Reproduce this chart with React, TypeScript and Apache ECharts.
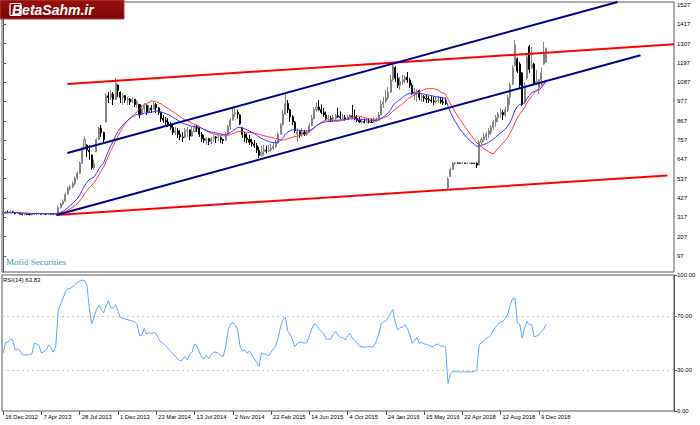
import React, { useEffect, useRef } from "react";
import * as echarts from "echarts";

// ---- tick labels ----
const dateLabels = [
  "16 Dec 2012", "7 Apr 2013", "28 Jul 2013", "1 Dec 2013", "23 Mar 2014",
  "13 Jul 2014", "2 Nov 2014", "22 Feb 2015", "14 Jun 2015", "4 Oct 2015",
  "24 Jan 2016", "15 May 2016", "22 Apr 2018", "12 Aug 2018", "9 Dec 2018",
];
const labelStep = 16;
const slotCount = 281;
const priceTicks = [97, 207, 317, 427, 537, 647, 757, 867, 977, 1087, 1197, 1307, 1417, 1527];
const rsiTicks = [0, 30, 70, 100];

// ---- weekly candles [open, close, low, high] ----
const candlesFlat = [
  [340,342,335,348],[342,346,338,352],[346,344,340,355],[344,348,340,356],[348,345,340,354],
  [345,338,333,347],[338,340,334,345],[340,336,332,343],[336,333,328,340],[333,334,328,339],
  [334,333,329,338],[333,332,328,337],[332,333,328,337],[333,338,330,342],[338,337,332,341],
  [337,338,333,342],[338,334,330,340],[334,335,331,339],[335,334,330,338],[334,337,331,341],
  [337,336,332,340],[336,334,330,339],[334,337,331,341],
];
const candlesRally = [
  [337,372,330,385],[372,392,368,400],[392,408,385,418],[408,448,405,458],[448,482,445,492],
  [482,490,470,502],[490,510,482,520],[510,540,500,548],[540,568,528,578],[568,625,565,635],
  [625,712,620,720],[712,760,705,778],[728,700,662,732],[700,690,645,728],[672,600,588,676],
  [600,625,586,645],[690,760,688,770],[760,825,757,832],[825,800,775,843],[800,760,746,805],
  [860,1010,858,1025],[1010,1000,968,1031],[1000,1020,985,1043],[1020,990,957,1031],[990,1080,985,1111],
  [1070,1040,1003,1075],[1030,1000,968,1035],[1000,1010,957,1025],[1010,985,968,1014],[985,990,957,1003],
  [990,975,957,997],[975,990,968,1003],[990,960,946,992],[960,975,940,985],[960,900,883,962],
];
const candlesRange = [
  [905,935,900,957],[935,955,917,968],[955,915,900,960],[915,940,911,957],[940,930,911,957],
  [930,960,929,974],[960,940,911,968],[940,915,900,946],[915,880,860,917],[880,870,855,900],
  [870,860,843,889],[860,845,832,883],[845,830,815,860],[830,800,786,843],[800,810,786,832],
  [810,790,769,826],[790,775,757,815],[775,770,746,803],[770,810,769,826],[810,815,775,832],
  [815,780,757,818],[780,805,776,832],[805,830,800,843],[830,825,803,843],[825,790,775,832],
  [790,765,746,803],[765,755,740,786],[755,765,729,775],[765,750,729,770],[750,765,735,775],
  [765,775,746,786],[775,770,740,780],[770,772,750,790],[772,760,740,778],[760,755,735,765],
  [755,790,752,803],[790,835,786,843],[835,870,815,883],[870,905,868,946],[905,915,889,940],
  [915,905,880,930],[900,850,843,905],[826,790,769,830],[790,770,746,803],[770,760,740,795],
  [760,745,729,786],[745,735,720,765],[735,725,712,757],[725,700,683,740],[700,670,655,718],
  [670,690,660,725],[690,700,670,730],[700,695,683,725],[695,700,689,729],[700,710,690,735],
  [710,720,700,740],[720,740,712,757],[740,790,738,803],[790,845,788,855],
];
const candlesChannel = [
  [845,905,840,929],[905,965,900,1025],[965,930,911,985],[930,890,860,935],[890,860,843,900],
  [860,810,797,865],[790,805,750,826],[805,790,769,815],[790,800,775,826],[800,790,780,815],
  [790,800,781,812],[800,840,798,855],[840,880,835,900],[880,930,875,946],[930,945,917,974],
  [945,930,925,985],[930,915,905,960],[915,900,889,940],[900,880,870,920],[880,880,860,900],
  [880,875,860,895],[875,885,860,900],[880,895,865,905],[895,890,883,940],[890,885,875,920],
  [885,885,870,905],[885,875,868,900],[875,890,870,900],[890,900,883,905],[895,885,880,957],
  [885,880,870,930],[880,870,860,900],[870,860,855,889],[860,862,852,880],[862,858,852,880],
  [858,862,855,880],[862,860,852,880],[860,858,855,878],[858,862,855,885],[862,870,860,885],
  [870,900,868,917],[900,960,900,985],[960,975,940,1003],[975,1000,968,1043],[1000,1030,985,1060],
  [1030,1100,1025,1128],[1100,1180,1090,1200],[1170,1110,1088,1178],[1110,1070,1054,1140],[1070,1090,1043,1117],
  [1090,1100,1071,1128],[1100,1115,1080,1125],[1115,1100,1083,1145],[1100,1070,1054,1111],[1070,1020,1014,1083],
  [1020,1030,985,1054],[1030,1040,975,1045],[1040,1000,985,1045],[1000,1005,974,1025],[1005,995,975,1014],
  [995,990,968,1014],[990,985,968,1008],[985,980,970,1010],[980,975,957,1003],[975,980,965,1003],
  [980,985,970,1010],[985,975,965,1003],[975,970,957,1003],[970,965,957,1000],
];
const candlesReopen = [
  [485,535,478,547],[550,590,547,600],[590,625,586,632],[625,628,615,632],[626,626,623,629],
  [626,625,623,628],[625,626,623,628],[626,625,622,628],[625,625,623,627],[625,626,623,628],
  [626,625,622,628],[625,624,621,627],[624,615,598,630],[615,745,612,757],[745,760,729,775],
  [760,775,746,797],[775,790,757,803],[790,810,769,826],[800,830,786,843],[830,860,815,872],
  [860,885,832,900],[885,905,860,917],[905,915,883,940],[915,900,872,929],[900,930,889,946],
  [930,1000,917,1014],[1000,1070,957,1083],[1075,1170,1070,1185],[1180,1300,1175,1328],[1220,1150,1140,1228],
  [1190,1070,1054,1202],[1140,960,950,1145],[970,1060,965,1088],[1110,1230,1100,1242],[1290,1160,1140,1299],
  [1170,1190,1160,1288],[1190,1080,1071,1197],[1080,1090,1075,1157],[1060,1100,1020,1105],[1100,1140,1071,1168],
  [1190,1250,1185,1316],[1200,1278,1197,1285],
];

// ---- RSI(14) values ----
const rsiValues = [
  42.5,50.5,50.5,52.9,52.2,45,45.7,44.5,41.3,41.3,41.3,41.3,42,49.8,49.3,48.1,42.5,43.7,45,48.6,46.4,43.3,48.1,
  73.9,78.7,82.5,87.8,89.8,90.2,91.2,93.1,94.6,95.5,96.3,95.8,92.7,75.8,64.2,69,74.6,77.7,74.6,72.2,77,81.1,
  75.8,75.8,78.2,73.4,68.6,68.1,67.6,67.1,66.6,66.1,65.4,63.7,55.3,
  56,60.6,56.5,57.7,57,57.7,57,52.9,50.5,49.8,48.1,45.7,44,42,40.1,38.4,36.7,37.7,40.1,37.7,41.6,43.3,49.3,
  48.1,43.3,39.6,38.4,40.8,38.4,41.6,43.3,43.3,42.5,40.8,40.1,46.9,58.9,63.7,64.9,63.3,60.1,48.1,44,44.9,42.5,
  44,40.8,38.4,36,32.9,42.5,42,41.6,40.6,43.3,45.7,48.1,54.1,61.8,
  67.3,69,58.9,56.5,52.2,47.3,49.8,50.5,50.5,49.8,50.5,55.3,60.1,64,63.3,60.1,58.4,57,52.9,52.9,52.9,56.5,
  58.4,56,54.1,54.1,52.2,55.3,57,53.6,51.7,50,47.6,47.3,46.9,46.9,47.6,46.9,47.8,51.2,56.5,64,65.7,66.1,68.6,
  71.9,74.6,64.9,59.6,61.3,61.8,63.3,60.8,56,49.8,51.2,54.1,49.8,50.5,49.3,49,48.3,47.3,47.6,48.8,49.3,47.6,
  47.8,46.9,
  20.4,27.1,29,28.8,28.8,28.8,28.8,28.8,28.8,28.8,28.8,29,30,48.8,50.2,51.7,53.4,54.1,56,59.9,61.8,64.2,65.4,
  66.1,67.8,71.4,78.2,82.5,83,64.9,63.7,53.6,60.8,65.7,63.3,63.7,54.6,55.1,56,58.4,60.1,63.83,
];

// ---- trend lines drawn on the chart: [bar index, price] ----
const redUpper = [[26.85, 1077], [280.5, 1303]];
const redLower = [[22.3, 330], [277.8, 555]];
const blueLower = [[22.3, 330], [266.5, 1240]];
const blueUpper = [[26.85, 683], [256.9, 1544]];

const maPeriod = 20;

function sma(values: number[], n: number) {
  return values.map((_, i) => {
    const s = Math.max(0, i - n + 1);
    let sum = 0;
    for (let k = s; k <= i; k++) sum += values[k];
    return +(sum / (i - s + 1)).toFixed(2);
  });
}
function ema(values: number[], n: number) {
  const a = 2 / (n + 1);
  let prev = values[0];
  return values.map((v, i) => {
    prev = i === 0 ? v : a * v + (1 - a) * prev;
    return +prev.toFixed(2);
  });
}

export default function App() {
  const ref = useRef<HTMLDivElement>(null);
  useEffect(() => {
    if (!ref.current) return;
    const chart = echarts.init(ref.current, null, { renderer: "svg" });
    const candles = [...candlesFlat, ...candlesRally, ...candlesRange, ...candlesChannel, ...candlesReopen];
    const closes = candles.map((c) => c[1]);
    const emaLine = ema(closes, maPeriod);
    const smaLine = sma(closes, maPeriod);
    const cats = Array.from({ length: slotCount }, (_, i) => String(i));
    const isLabel = (idx: number) => idx % labelStep === 0 && idx / labelStep < dateLabels.length;
    const font = "Liberation Sans";
    const frame = "#5a5a5a";
    const trend = (data: number[][], color: string) => ({
      type: "line",
      xAxisIndex: 2,
      yAxisIndex: 0,
      data,
      symbol: "none",
      clip: true,
      lineStyle: { color, width: 2 },
      z: 5,
      silent: true,
    });
    chart.setOption({
      animation: false,
      backgroundColor: "#ffffff",
      grid: [
        { left: 2, right: 26, top: 2, height: 270, show: true, borderColor: frame, borderWidth: 1, backgroundColor: "#fff" },
        { left: 2, right: 26, top: 275, height: 136, show: true, borderColor: frame, borderWidth: 1, backgroundColor: "#fff" },
      ],
      xAxis: [
        { type: "category", gridIndex: 0, data: cats, boundaryGap: true, axisLine: { show: false }, axisTick: { show: false }, axisLabel: { show: false } },
        {
          type: "category",
          gridIndex: 1,
          data: cats,
          boundaryGap: true,
          axisLine: { show: false },
          axisTick: { show: true, alignWithLabel: true, interval: (idx: number) => isLabel(idx), length: 4, lineStyle: { color: frame } },
          axisLabel: {
            show: true,
            interval: (idx: number) => isLabel(idx),
            formatter: (_v: string, idx: number) => (isLabel(idx) ? dateLabels[idx / labelStep] : ""),
            align: "left",
            padding: [0, 0, 0, 2],
            margin: 3,
            fontSize: 5.8,
            fontFamily: font,
            color: "#000",
          },
        },
        { type: "value", gridIndex: 0, min: -0.5, max: slotCount - 0.5, show: false },
      ],
      yAxis: [
        {
          type: "value",
          gridIndex: 0,
          position: "right",
          min: 5,
          max: 1544,
          axisLine: { show: true, lineStyle: { color: frame } },
          axisTick: { show: true, length: 3, customValues: priceTicks, lineStyle: { color: frame } },
          axisLabel: { show: true, customValues: priceTicks, formatter: (v: number) => String(Math.round(v)), fontSize: 6, fontFamily: font, color: "#000", margin: 3 },
          splitLine: { show: false },
        },
        {
          type: "value",
          gridIndex: 1,
          position: "right",
          min: 0,
          max: 100,
          axisLine: { show: true, lineStyle: { color: frame } },
          axisTick: { show: true, length: 3, customValues: rsiTicks, lineStyle: { color: frame } },
          axisLabel: { show: true, customValues: rsiTicks, formatter: (v: number) => v.toFixed(2), fontSize: 6, fontFamily: font, color: "#000", margin: 3 },
          splitLine: { show: false },
        },
      ],
      series: [
        {
          type: "candlestick",
          xAxisIndex: 0,
          yAxisIndex: 0,
          data: candles,
          barWidth: "65%",
          itemStyle: { color: "#c8c8c8", borderColor: "#858585", color0: "#000000", borderColor0: "#000000", borderWidth: 1 },
          z: 3,
          silent: true,
        },
        { type: "line", xAxisIndex: 0, yAxisIndex: 0, data: smaLine, symbol: "none", lineStyle: { color: "#ff3a3a", width: 1 }, z: 4, silent: true },
        { type: "line", xAxisIndex: 0, yAxisIndex: 0, data: emaLine, symbol: "none", lineStyle: { color: "#3a3aff", width: 1 }, z: 4, silent: true },
        trend(redUpper, "#ff0000"),
        trend(redLower, "#ff0000"),
        trend(blueLower, "#000090"),
        trend(blueUpper, "#000090"),
        {
          type: "line",
          xAxisIndex: 1,
          yAxisIndex: 1,
          data: rsiValues,
          symbol: "none",
          lineStyle: { color: "#5aa8ff", width: 1 },
          silent: true,
          markLine: {
            silent: true,
            symbol: ["none", "none"],
            label: { show: false },
            lineStyle: { color: "#c8c8c8", type: [2, 3], width: 1 },
            data: [{ yAxis: 70 }, { yAxis: 30 }],
          },
        },
      ],
      graphic: [
        {
          type: "rect",
          shape: { x: 0, y: 0, width: 124, height: 19 },
          style: {
            fill: new echarts.graphic.LinearGradient(0, 0, 0, 1, [
              { offset: 0, color: "#9a1010" },
              { offset: 1, color: "#7a0606" },
            ]),
            stroke: "#b04040",
            lineWidth: 1,
          },
          z: 100,
        },
        {
          type: "rect",
          shape: { x: 10, y: 3.5, width: 11, height: 12, r: 1 },
          style: { fill: "none", stroke: "#ffffff", lineWidth: 1.2 },
          z: 101,
        },
        {
          type: "text",
          x: 12,
          y: 10,
          style: { text: "BetaSahm.ir", fill: "#ffffff", font: "italic bold 14px 'Liberation Sans'", verticalAlign: "middle", align: "left" },
          z: 102,
        },
        {
          type: "text",
          x: 6,
          y: 262,
          style: { text: "Mofid Securities", fill: "#3a9fa2", font: "9px 'Liberation Serif'", verticalAlign: "middle", align: "left" },
          z: 102,
        },
        {
          type: "text",
          x: 3,
          y: 280,
          style: { text: "RSI(14) " + rsiValues[rsiValues.length - 1].toFixed(2), fill: "#000000", font: "6px 'Liberation Sans'", verticalAlign: "middle", align: "left" },
          z: 102,
        },
      ],
    });
    return () => chart.dispose();
  }, []);
  return <div ref={ref} style={{ position: "fixed", left: 0, top: 0, width: 700, height: 425, background: "#fff" }} />;
}
